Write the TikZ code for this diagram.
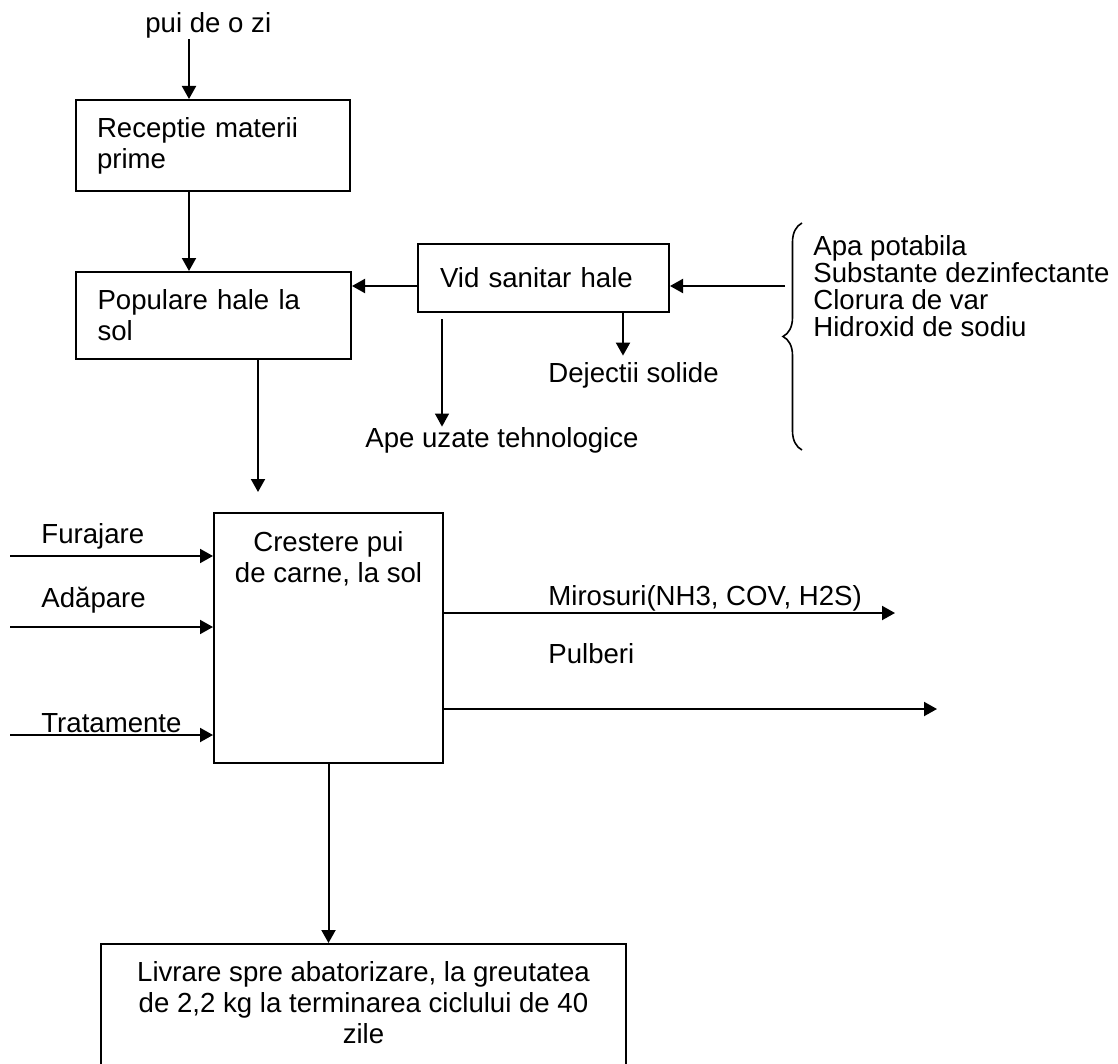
\documentclass[tikz,border=0pt]{standalone}
\usepackage{fontspec}
\setmainfont{Liberation Sans}
\usetikzlibrary{arrows.meta}
\usetikzlibrary{decorations.pathreplacing}

\tikzset{
    boxnode/.style={draw, line width=1pt, inner sep=0pt, align=left},
    flow/.style={line width=1pt, -{Triangle[length=6.5pt,width=7pt]}},
    txt/.style={inner sep=0pt, anchor=base west}
}

\begin{document}
\begin{tikzpicture}[x=0.5pt, y=-0.5pt, every node/.style={font=\fontsize{13.8}{15.5}\selectfont}]
            \useasboundingbox (0,0) rectangle (1118,1064);

            \node[txt] (pui) at (145,33) {pui de o zi};
            \node[boxnode, minimum width=137pt, minimum height=45.5pt, text width=116pt] (receptie) at (213,145.5) {Receptie materii\\prime};
            \node[boxnode, minimum width=137.5pt, minimum height=43.5pt, text width=116pt] (populare) at (213.5,315.5) {Populare hale la\\sol};
            \node[boxnode, minimum width=125.5pt, minimum height=34pt, text width=103.5pt] (vid) at (543.5,278) {Vid sanitar hale};
            \node[txt] (dej) at (548,382) {Dejectii solide};
            \node[txt] (ape) at (365,447) {Ape uzate tehnologice};
            \node[inner sep=0pt, anchor=west, align=left, font=\fontsize{13.8}{13.5}\selectfont] (inputs) at (813,286.5) {Apa potabila\\Substante dezinfectante\\Clorura de var\\Hidroxid de sodiu};
            \draw[line width=0.8pt, decorate, decoration={brace, amplitude=9.5pt}] (802,450) -- (802,223);

            \node[boxnode, minimum width=114.5pt, minimum height=125pt, label={[anchor=north, inner sep=0pt, align=center, yshift=-9.5pt]north:Crestere pui\\de carne, la sol}] (crestere) at (328.5,638) {};
            \node[txt] (furaj) at (41,543) {Furajare};
            \node[txt] (adap) at (41,607) {Adăpare};
            \node[txt] (trat) at (41,732) {Tratamente};
            \node[txt] (miros) at (548,605) {Mirosuri(NH3, COV, H2S)};
            \node[txt] (pulb) at (548,663) {Pulberi};

            \node[boxnode, minimum width=262.5pt, minimum height=70pt, label={[anchor=north, inner sep=0pt, align=center, yshift=-9pt]north:Livrare spre abatorizare, la greutatea\\de 2,2 kg la terminarea ciclului de 40\\zile}] (livrare) at (363.5,1014) {};

            \coordinate (inA) at (189,0);
            \coordinate (dropA) at (258,492);
            \coordinate (lvl) at (785,286);
            \coordinate (dx) at (623,0);
            \coordinate (ax) at (442,0);
            \coordinate (fur) at (10,556);
            \coordinate (ada) at (10,627);
            \coordinate (tra) at (10,735);
            \coordinate (mir) at (895,613);
            \coordinate (pul) at (937,709);

            \draw[flow] (pui.south -| inA) -- (receptie.north -| inA);
            \draw[flow] (receptie.south -| inA) -- (populare.north -| inA);
            \draw[flow] (populare.south -| dropA) -- (dropA);
            \draw[flow] (vid.west |- lvl) -- (populare.east |- lvl);
            \draw[flow] (lvl) -- (vid.east |- lvl);
            \draw[flow, shorten >=3pt] (vid.south -| dx) -- (dej.north -| dx);
            \draw[flow, line width=0.6pt, shorten <=3pt] (vid.south -| ax) -- (ape.north -| ax);

            \draw[flow] (fur) -- (crestere.west |- fur);
            \draw[flow] (ada) -- (crestere.west |- ada);
            \draw[flow] (tra) -- (crestere.west |- tra);
            \draw[flow] (crestere.east |- mir) -- (mir);
            \draw[flow] (crestere.east |- pul) -- (pul);
            \draw[flow] (crestere.south) -- (livrare.north -| crestere.south);
        \end{tikzpicture}
\end{document}
